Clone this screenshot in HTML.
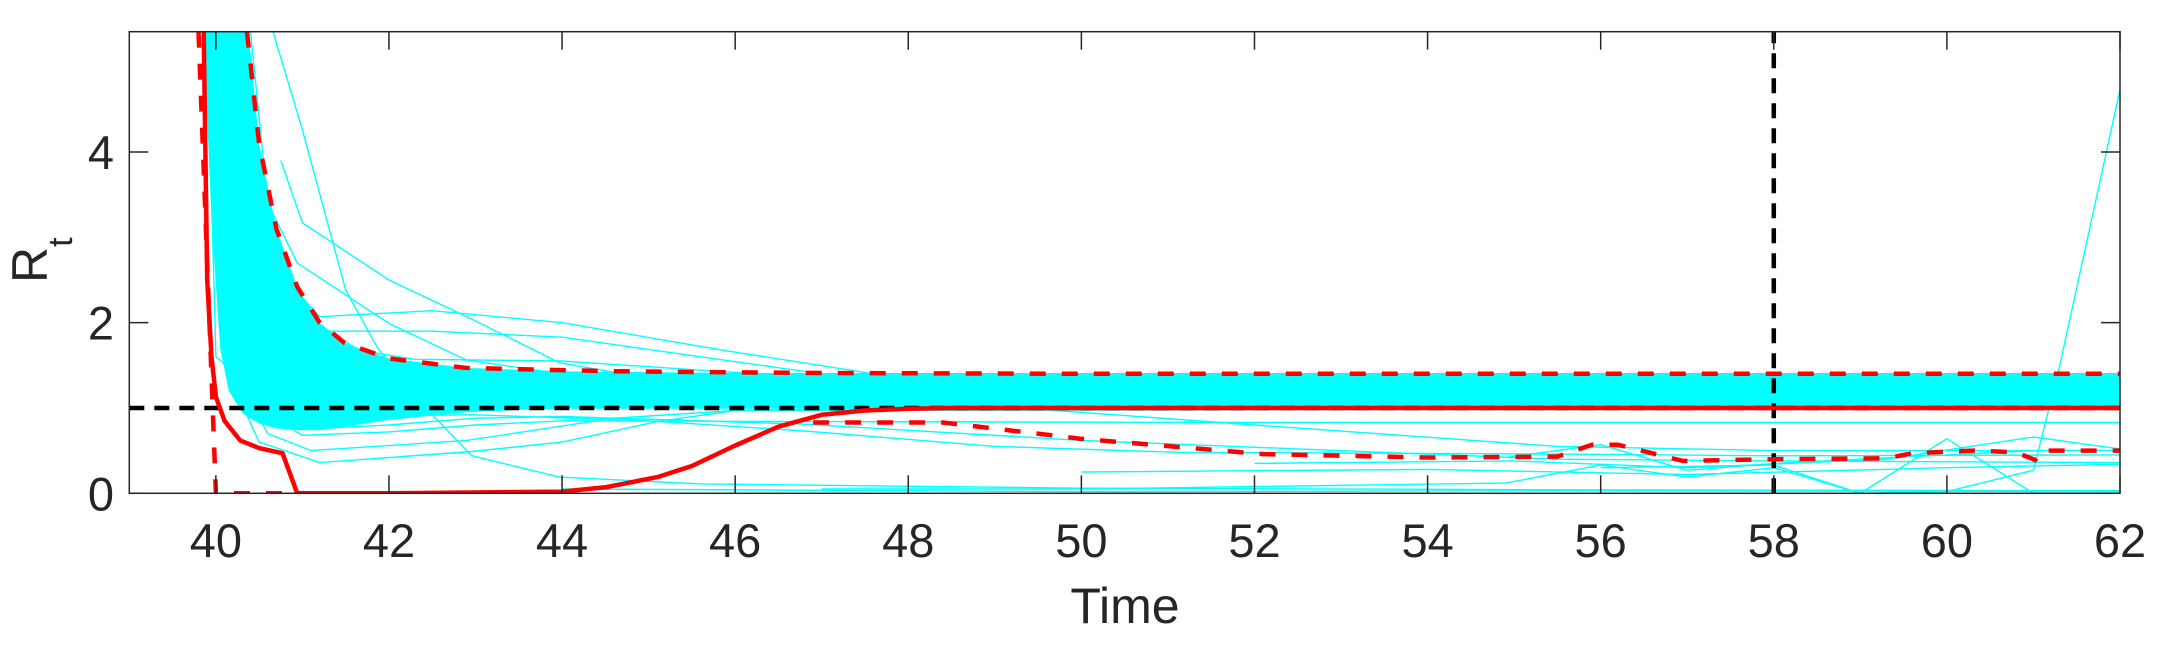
<!DOCTYPE html>
<html><head><meta charset="utf-8"><style>
html,body{margin:0;padding:0;background:#fff;}
svg{display:block;font-family:"Liberation Sans",Arial,sans-serif;}
</style></head><body>
<svg id="chart" width="2163" height="652" viewBox="0 0 2163 652" xmlns="http://www.w3.org/2000/svg">
<defs><clipPath id="plotclip"><rect x="129.3" y="31.7" width="1990.7" height="461.6"/></clipPath></defs>
<rect x="0" y="0" width="2163" height="652" fill="#fff"/>
<g id="plot" clip-path="url(#plotclip)"></g>
<g id="axes"></g>
<text x="1125" y="623" font-size="50" fill="#262626" text-anchor="middle">Time</text>
<text transform="translate(47,283) rotate(-90)" font-size="50" fill="#262626">R<tspan font-size="34" dy="25">t</tspan></text>
</svg>
<script>
// ---- data ----
const xTicks = [40,42,44,46,48,50,52,54,56,58,60,62];
const yTicks = [0,2,4];
const xDomain = [39, 62];
const yDomain = [0, 5.41];
const refLevel = 1;
const refTime = 58;

const bandT     = [39.85,39.95,40.05,40.15,40.3,40.36,40.5,40.7,40.94,41.2,41.49,42,42.89,44,46,50,62];
const bandUpper = [5.6,5.6,5.6,5.6,5.6,5.6,4.1,3.1,2.42,2.0,1.76,1.58,1.47,1.43,1.41,1.41,1.41];
const bandLower = [5.6,3.2,1.7,1.2,0.95,0.9,0.82,0.76,0.74,0.74,0.78,0.86,0.95,1.0,1.0,1.0,1.0];

const cyanSeries = [
  {t:[40.66,41.0,41.5,41.86,42.3,42.96,43.97,45.6,50,56,62], v:[5.41,4.26,2.38,1.72,1.13,0.44,0.19,0.11,0.06,0.04,0.03]},
  {t:[40.75,41.0,42.0,42.96,43.97,45,46,48,62], v:[3.9,3.17,2.5,2.04,1.53,1.35,1.25,1.2,1.18]},
  {t:[40.6,40.94,42.0,42.9,44,46,62], v:[3.4,2.7,1.99,1.56,1.4,1.3,1.28]},
  {t:[40.9,41.2,42.5,44,45.9,47.6,50,53,62], v:[2.4,2.07,2.14,2.0,1.67,1.4,1.25,1.2,1.2]},
  {t:[40.9,41.2,42.5,44,45.6,47,62], v:[2.2,1.9,1.9,1.83,1.6,1.4,1.35]},
  {t:[41.2,42.3,44,45.5,47,62], v:[1.75,1.57,1.55,1.45,1.35,1.3]},
  {t:[39.95,40.1,40.5,41.2,42.96,44,45.1,46,48,62], v:[5.41,1.5,0.6,0.36,0.49,0.6,0.84,0.97,1.0,1.0]},
  {t:[39.98,40.2,40.6,41.1,42.9,44.6,46,62], v:[5.41,1.4,0.7,0.5,0.62,0.88,0.97,0.99]},
  {t:[40.02,40.3,41,42,43,44,47,52,62], v:[5.41,1.1,0.68,0.72,0.8,0.85,0.84,0.83,0.83]},
  {t:[39.9,40.0,41,42,43,44,46.8,50,55.5,58,62], v:[5.41,1.6,0.75,0.8,0.88,0.9,0.81,0.62,0.4,0.38,0.36]},
  {t:[40.05,41,43,45,46.8,49,51.1,55.5,58,62], v:[5.41,0.9,0.92,0.85,0.73,0.55,0.48,0.46,0.44,0.45]},
  {t:[40.1,41,44,47,49.3,52,55.5,58,62], v:[5.41,0.95,1.0,1.0,1.0,0.8,0.55,0.5,0.5]},
  {t:[47,50,54.9,56,57,58,59,60,61,61.3,62], v:[0.05,0.05,0.12,0.33,0.19,0.3,0.0,0.02,0.27,1.48,4.73]},
  {t:[54.9,56,57,58,59,60,61,62], v:[0.42,0.57,0.27,0.35,0.4,0.45,0.5,0.5]},
  {t:[56,58,59,60,61,62], v:[0.3,0.33,0.0,0.64,0.0,0.0]},
  {t:[52,55,57,59.3,61,62], v:[0.35,0.38,0.3,0.4,0.66,0.52]},
  {t:[50,54,57,60,62], v:[0.25,0.28,0.22,0.3,0.34]},
  {t:[44,50,56,62], v:[0.05,0.02,0.03,0.02]},
  {t:[40.3,40.5,41,42,44,62], v:[5.41,3.0,1.7,1.35,1.25,1.22]},
  {t:[40.2,40.4,41,42,44,62], v:[5.41,2.6,1.45,1.2,1.12,1.1]},
  {t:[40.1,40.3,41,42,44,62], v:[5.41,2.2,1.2,1.05,1.05,1.06]},
  {t:[40.4,40.6,41,42,44,62], v:[5.41,3.4,2.1,1.45,1.3,1.3]}
];

const upperT = [40.36,40.5,40.7,40.94,41.2,41.49,42.0,42.89,44.6,47,50,62];
const upperV = [5.41,4.1,3.1,2.42,2.0,1.76,1.58,1.47,1.43,1.41,1.40,1.40];

const medianT = [39.86,39.9,39.95,40.0,40.1,40.28,40.5,40.72,40.77,40.94,42,44.0,44.5,45.1,45.5,46.0,46.5,47.0,47.5,48.0,48.5,62];
const medianV = [5.41,2.5,1.6,1.13,0.85,0.62,0.53,0.48,0.47,0.0,0.0,0.02,0.07,0.19,0.32,0.56,0.78,0.92,0.97,0.99,1.0,1.0];

const lowerT = [39.8,40.0,40.95,40.96,46.9,48.4,49.99,52.1,54.0,55.5,55.9,56.2,56.95,58.0,59.3,59.6,60.3,60.8,61.02,61.1,62];
const lowerV = [5.41,0.0,0.0,null,0.83,0.83,0.64,0.46,0.42,0.43,0.57,0.57,0.38,0.40,0.41,0.47,0.50,0.48,0.39,0.50,0.50];

// ---- axes functions ----
const X0=129.3, X1=2120, Y0=493.3, Y1=31.7;
function X(t){return X0+(t-xDomain[0])/(xDomain[1]-xDomain[0])*(X1-X0);}
function Y(v){return Y0-(v-yDomain[0])/(yDomain[1]-yDomain[0])*(Y0-Y1);}
const NS="http://www.w3.org/2000/svg";
const plot=document.getElementById('plot');
const axes=document.getElementById('axes');
function mk(tag,attrs,parent){const e=document.createElementNS(NS,tag);for(const k in attrs)e.setAttribute(k,attrs[k]);parent.appendChild(e);return e;}
function pathFrom(ts,vs){let d='',pen=false;for(let i=0;i<ts.length;i++){if(vs[i]===null){pen=false;continue;}d+=(pen?'L':'M')+X(ts[i]).toFixed(1)+' '+Y(vs[i]).toFixed(1)+' ';pen=true;}return d;}

// band
let bd='';
for(let i=0;i<bandT.length;i++) bd+=(i?'L':'M')+X(bandT[i]).toFixed(1)+' '+Y(bandUpper[i]).toFixed(1)+' ';
for(let i=bandT.length-1;i>=0;i--) bd+='L'+X(bandT[i]).toFixed(1)+' '+Y(bandLower[i]).toFixed(1)+' ';
const band=mk('path',{d:bd+'Z',fill:'#00FFFF',stroke:'none'},plot);



cyanSeries.forEach((s,i)=>{
  const p=mk('path',{d:pathFrom(s.t,s.v),fill:'none',stroke:'#00FFFF','stroke-width':1.4},plot);
  
  
});

// reference lines
const hl=mk('line',{x1:X0,x2:X1,y1:Y(refLevel),y2:Y(refLevel),stroke:'#000','stroke-width':4.5,'stroke-dasharray':'15 10'},plot);


const vl=mk('line',{x1:X(refTime),x2:X(refTime),y1:Y0,y2:Y1,stroke:'#000','stroke-width':4.5,'stroke-dasharray':'15 10'},plot);



const up=mk('path',{d:pathFrom(upperT,upperV),fill:'none',stroke:'#FF0000','stroke-width':4.5,'stroke-dasharray':'16 16'},plot);


const lo=mk('path',{d:pathFrom(lowerT,lowerV),fill:'none',stroke:'#FF0000','stroke-width':4.5,'stroke-dasharray':'16 16'},plot);


const md=mk('path',{d:pathFrom(medianT,medianV),fill:'none',stroke:'#FF0000','stroke-width':4.5,'stroke-linejoin':'round'},plot);



// axes box and ticks
const box=mk('rect',{x:X0,y:Y1,width:X1-X0,height:Y0-Y1,fill:'none',stroke:'#262626','stroke-width':1.5},axes);


xTicks.forEach(t=>{
  const x=X(t);
  mk('line',{x1:x,x2:x,y1:Y0,y2:Y0-18,stroke:'#262626','stroke-width':1.5},axes);
  mk('line',{x1:x,x2:x,y1:Y1,y2:Y1+18,stroke:'#262626','stroke-width':1.5},axes);
  const tx=mk('text',{x:x,y:557,'font-size':47,fill:'#262626','text-anchor':'middle'},axes);
  tx.textContent=t;
  
  
});
yTicks.forEach(v=>{
  const y=Y(v);
  mk('line',{x1:X0,x2:X0+19,y1:y,y2:y,stroke:'#262626','stroke-width':1.5},axes);
  mk('line',{x1:X1,x2:X1-19,y1:y,y2:y,stroke:'#262626','stroke-width':1.5},axes);
  const ty=mk('text',{x:114,y:y+17,'font-size':47,fill:'#262626','text-anchor':'end'},axes);
  ty.textContent=v;
  
  
});
</script>
</body></html>
